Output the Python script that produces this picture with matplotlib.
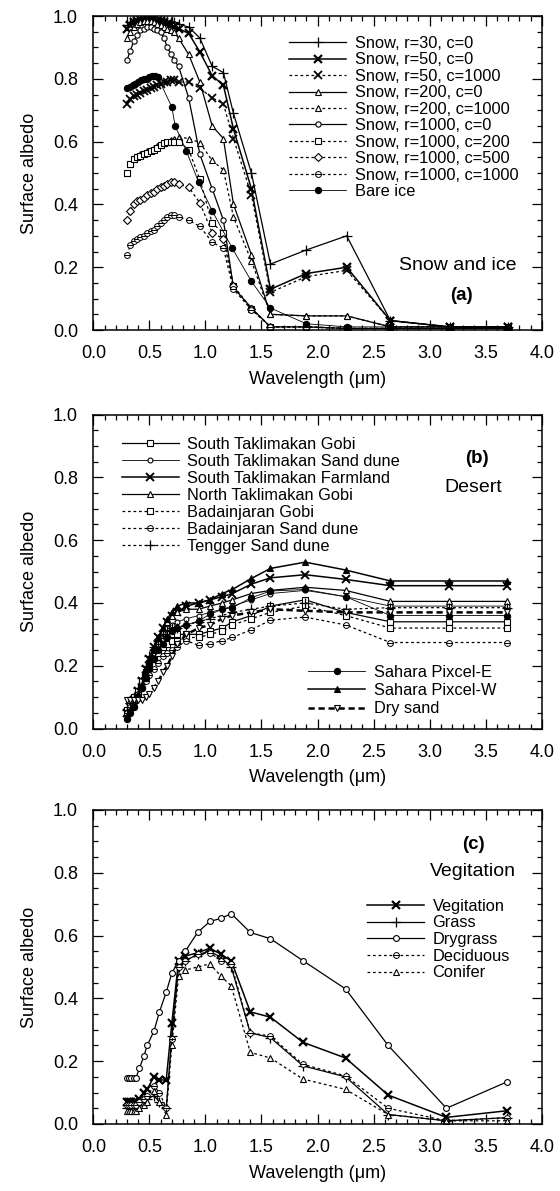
import matplotlib
matplotlib.use("Agg")
import matplotlib.pyplot as plt
from matplotlib.ticker import MultipleLocator, FormatStrFormatter
from matplotlib.path import Path

plt.rcParams['font.family'] = ['Liberation Sans', 'DejaVu Sans']

# ---------------- Panel (a): Snow and ice ----------------
wl_snow = [0.30, 0.33, 0.36, 0.39, 0.42, 0.45, 0.48, 0.51, 0.54, 0.57, 0.60, 0.63, 0.66, 0.69, 0.72, 0.76,
           0.85, 0.95, 1.06, 1.16, 1.25, 1.41, 1.58, 1.90, 2.26, 2.65, 3.18, 3.70]
snow_r30_c0 = [0.97, 0.98, 0.985, 0.99, 0.99, 0.99, 0.99, 0.99, 0.99, 0.99, 0.99, 0.985, 0.985, 0.98, 0.98, 0.975,
               0.965, 0.93, 0.84, 0.82, 0.69, 0.50, 0.21, 0.255, 0.30, 0.03, 0.01, 0.01]
snow_r50_c0 = [0.96, 0.97, 0.98, 0.985, 0.99, 0.99, 0.99, 0.99, 0.99, 0.985, 0.985, 0.98, 0.975, 0.97, 0.965, 0.96,
               0.945, 0.886, 0.81, 0.78, 0.64, 0.45, 0.13, 0.18, 0.20, 0.03, 0.01, 0.01]
snow_r50_c1000 = [0.72, 0.735, 0.745, 0.75, 0.755, 0.76, 0.765, 0.77, 0.775, 0.78, 0.785, 0.79, 0.79, 0.795, 0.795, 0.79,
                  0.79, 0.77, 0.74, 0.72, 0.61, 0.43, 0.12, 0.17, 0.19, 0.03, 0.01, 0.01]
snow_r200_c0 = [0.93, 0.95, 0.965, 0.975, 0.98, 0.985, 0.985, 0.985, 0.98, 0.975, 0.97, 0.965, 0.96, 0.955, 0.95, 0.93,
                0.878, 0.79, 0.65, 0.61, 0.40, 0.24, 0.05, 0.045, 0.045, 0.01, 0.01, 0.01]
snow_r200_c1000 = [0.50, 0.53, 0.545, 0.555, 0.56, 0.565, 0.57, 0.575, 0.58, 0.585, 0.59, 0.595, 0.60, 0.605, 0.61, 0.615,
                   0.61, 0.597, 0.54, 0.51, 0.36, 0.22, 0.05, 0.045, 0.045, 0.01, 0.01, 0.01]
snow_r1000_c0 = [0.86, 0.89, 0.92, 0.94, 0.955, 0.96, 0.965, 0.965, 0.96, 0.955, 0.95, 0.93, 0.90, 0.88, 0.86, 0.84,
                 0.74, 0.56, 0.45, 0.35, 0.135, 0.07, 0.01, 0.01, 0.005, 0.005, 0.005, 0.005]
snow_r1000_c200 = [0.50, 0.53, 0.545, 0.55, 0.555, 0.56, 0.565, 0.57, 0.575, 0.58, 0.59, 0.595, 0.60, 0.60, 0.60, 0.60,
                   0.575, 0.48, 0.34, 0.31, 0.14, 0.068, 0.01, 0.01, 0.005, 0.005, 0.005, 0.005]
snow_r1000_c500 = [0.35, 0.38, 0.40, 0.41, 0.415, 0.42, 0.43, 0.435, 0.44, 0.45, 0.455, 0.46, 0.465, 0.47, 0.47, 0.465,
                   0.455, 0.405, 0.31, 0.29, 0.14, 0.068, 0.01, 0.01, 0.005, 0.005, 0.005, 0.005]
snow_r1000_c1000 = [0.24, 0.27, 0.285, 0.29, 0.295, 0.30, 0.31, 0.315, 0.32, 0.33, 0.34, 0.35, 0.36, 0.365, 0.365, 0.36,
                    0.35, 0.33, 0.28, 0.26, 0.13, 0.065, 0.01, 0.01, 0.005, 0.005, 0.005, 0.005]
wl_ice = [0.30, 0.325, 0.35, 0.375, 0.40, 0.425, 0.45, 0.475, 0.50, 0.525, 0.55, 0.575,
          0.70, 0.73, 0.83, 0.94, 1.06, 1.24, 1.41, 1.58, 1.90, 2.26, 2.65, 3.18, 3.70]
bare_ice = [0.77, 0.775, 0.78, 0.785, 0.79, 0.795, 0.80, 0.80, 0.805, 0.81, 0.81, 0.805,
            0.71, 0.65, 0.57, 0.47, 0.38, 0.26, 0.155, 0.07, 0.02, 0.01, 0.01, 0.01, 0.01]
labels_a = ["Snow, r=30, c=0", "Snow, r=50, c=0", "Snow, r=50, c=1000", "Snow, r=200, c=0",
            "Snow, r=200, c=1000", "Snow, r=1000, c=0", "Snow, r=1000, c=200", "Snow, r=1000, c=500",
            "Snow, r=1000, c=1000", "Bare ice"]

# ---------------- Panel (b): Desert ----------------
wl_desert = [0.30, 0.33, 0.36, 0.40, 0.43, 0.47, 0.50, 0.54, 0.58, 0.62, 0.66, 0.70, 0.75,
             0.83, 0.94, 1.04, 1.15, 1.24, 1.41, 1.58, 1.89, 2.25, 2.65, 3.17, 3.69]
s_tak_gobi = [0.06, 0.08, 0.10, 0.12, 0.15, 0.18, 0.21, 0.24, 0.26, 0.28, 0.29, 0.30, 0.30,
              0.30, 0.30, 0.31, 0.32, 0.34, 0.36, 0.39, 0.41, 0.37, 0.34, 0.34, 0.34]
s_tak_sand = [0.05, 0.07, 0.09, 0.12, 0.15, 0.18, 0.21, 0.24, 0.27, 0.30, 0.32, 0.33, 0.34,
              0.35, 0.36, 0.37, 0.38, 0.39, 0.41, 0.43, 0.44, 0.42, 0.39, 0.39, 0.39]
s_tak_farm = [0.05, 0.07, 0.09, 0.12, 0.15, 0.19, 0.22, 0.26, 0.29, 0.32, 0.34, 0.36, 0.37,
              0.39, 0.40, 0.41, 0.42, 0.43, 0.46, 0.48, 0.49, 0.475, 0.455, 0.455, 0.455]
n_tak_gobi = [0.05, 0.07, 0.09, 0.12, 0.15, 0.18, 0.21, 0.25, 0.28, 0.31, 0.34, 0.36, 0.37,
              0.38, 0.38, 0.39, 0.40, 0.41, 0.43, 0.44, 0.45, 0.44, 0.405, 0.405, 0.405]
badain_gobi = [0.06, 0.08, 0.10, 0.12, 0.15, 0.17, 0.20, 0.22, 0.24, 0.26, 0.27, 0.28, 0.28,
               0.29, 0.29, 0.30, 0.31, 0.33, 0.35, 0.37, 0.39, 0.36, 0.32, 0.32, 0.32]
badain_sand = [0.05, 0.07, 0.09, 0.11, 0.13, 0.15, 0.17, 0.19, 0.21, 0.23, 0.24, 0.25, 0.26,
               0.28, 0.265, 0.27, 0.28, 0.29, 0.315, 0.345, 0.355, 0.33, 0.274, 0.274, 0.274]
tengger_sand = [0.06, 0.08, 0.10, 0.13, 0.16, 0.20, 0.23, 0.26, 0.28, 0.30, 0.31, 0.32, 0.32,
                0.33, 0.34, 0.35, 0.36, 0.37, 0.38, 0.39, 0.40, 0.38, 0.385, 0.385, 0.385]
sahara_e = [0.03, 0.05, 0.07, 0.10, 0.13, 0.16, 0.19, 0.22, 0.25, 0.27, 0.29, 0.31, 0.32,
            0.33, 0.343, 0.364, 0.38, 0.385, 0.417, 0.438, 0.443, 0.42, 0.36, 0.36, 0.36]
sahara_w = [0.04, 0.06, 0.08, 0.11, 0.14, 0.18, 0.21, 0.25, 0.29, 0.32, 0.35, 0.37, 0.39,
            0.40, 0.40, 0.41, 0.43, 0.443, 0.478, 0.51, 0.53, 0.505, 0.47, 0.47, 0.47]
dry_sand = [0.09, 0.09, 0.09, 0.09, 0.09, 0.10, 0.11, 0.13, 0.15, 0.18, 0.20, 0.23, 0.27,
            0.30, 0.32, 0.33, 0.35, 0.36, 0.37, 0.38, 0.375, 0.37, 0.37, 0.37, 0.37]
labels_b1 = ["South Taklimakan Gobi", "South Taklimakan Sand dune", "South Taklimakan Farmland",
             "North Taklimakan Gobi", "Badainjaran Gobi", "Badainjaran Sand dune", "Tengger Sand dune"]
labels_b2 = ["Sahara Pixcel-E", "Sahara Pixcel-W", "Dry sand"]

# ---------------- Panel (c): Vegetation ----------------
wl_veg = [0.30, 0.32, 0.34, 0.36, 0.38, 0.41, 0.45, 0.48, 0.54, 0.59, 0.65, 0.70, 0.76, 0.82,
          0.93, 1.04, 1.14, 1.23, 1.40, 1.58, 1.87, 2.25, 2.63, 3.15, 3.69]
vegitation = [0.07, 0.07, 0.07, 0.07, 0.07, 0.08, 0.10, 0.11, 0.15, 0.14, 0.14, 0.32, 0.52, 0.535,
              0.545, 0.56, 0.54, 0.52, 0.357, 0.34, 0.26, 0.21, 0.092, 0.021, 0.042]
grass = [0.05, 0.05, 0.05, 0.05, 0.06, 0.06, 0.07, 0.08, 0.09, 0.07, 0.05, 0.28, 0.50, 0.52,
         0.54, 0.55, 0.53, 0.50, 0.29, 0.275, 0.185, 0.15, 0.03, 0.01, 0.02]
drygrass = [0.146, 0.146, 0.146, 0.146, 0.146, 0.177, 0.215, 0.25, 0.295, 0.357, 0.42, 0.48, 0.52, 0.55,
            0.61, 0.645, 0.655, 0.67, 0.61, 0.59, 0.52, 0.43, 0.25, 0.05, 0.134]
deciduous = [0.06, 0.06, 0.06, 0.06, 0.06, 0.07, 0.08, 0.09, 0.12, 0.10, 0.05, 0.27, 0.50, 0.52,
             0.54, 0.545, 0.52, 0.51, 0.29, 0.28, 0.19, 0.153, 0.05, 0.01, 0.02]
conifer = [0.04, 0.04, 0.04, 0.04, 0.04, 0.05, 0.06, 0.07, 0.106, 0.07, 0.03, 0.25, 0.47, 0.49,
           0.50, 0.51, 0.47, 0.44, 0.228, 0.21, 0.143, 0.11, 0.03, 0.01, 0.01]
labels_c = ["Vegitation", "Grass", "Drygrass", "Deciduous", "Conifer"]

# ---------------- styles ----------------
DASH = (0, (2.2, 2.2))
LW = 0.9
W = 'white'
# circle with a horizontal bar (⊖)
OMINUS = Path.make_compound_path(Path.unit_circle(),
                                 Path([[-1.0, 0.0], [1.0, 0.0]], [Path.MOVETO, Path.LINETO]))


def style(marker, ls='-', lw=LW, ms=4.5, mfc=W, mew=0.8):
    return dict(color='black', ls=ls, lw=lw, marker=marker, ms=ms, mfc=mfc, mec='black', mew=mew)


FS_TICK = 13
FS_LAB = 13
FS_LEG = 11.8
FS_TXT = 14

fig = plt.figure(figsize=(5.6, 11.91), dpi=100)
left, width, height = 0.1667, 0.8007, 0.2636
bottoms = [0.7229, 0.3883, 0.0563]
axes = [fig.add_axes([left, b, width, height]) for b in bottoms]

for ax in axes:
    ax.set_xlim(0, 4)
    ax.set_ylim(0, 1)
    ax.xaxis.set_major_locator(MultipleLocator(0.5))
    ax.xaxis.set_minor_locator(MultipleLocator(0.1))
    ax.yaxis.set_major_locator(MultipleLocator(0.2))
    ax.yaxis.set_minor_locator(MultipleLocator(0.05))
    ax.xaxis.set_major_formatter(FormatStrFormatter('%.1f'))
    ax.yaxis.set_major_formatter(FormatStrFormatter('%.1f'))
    ax.tick_params(which='both', direction='in', top=True, right=True, width=0.9, labelsize=FS_TICK)
    ax.tick_params(which='major', length=7)
    ax.tick_params(which='minor', length=3.6)
    ax.tick_params(axis='y', pad=11)
    ax.tick_params(axis='x', pad=11)
    for s in ax.spines.values():
        s.set_linewidth(1.1)
    ax.set_xlabel('Wavelength (μm)', fontsize=FS_LAB, labelpad=6)
    ax.set_ylabel('Surface albedo', fontsize=FS_LAB, labelpad=11)

legkw = dict(frameon=False, fontsize=FS_LEG, handlelength=3.5, handletextpad=0.5,
             borderpad=0, borderaxespad=0)

# Panel a
ax = axes[0]
ax.plot(wl_snow, snow_r30_c0, label=labels_a[0], **style('+', ms=7, mew=0.9))
ax.plot(wl_snow, snow_r50_c0, label=labels_a[1], **style('x', ms=6, mew=1.6, lw=1.1))
ax.plot(wl_snow, snow_r50_c1000, label=labels_a[2], **style('x', ls=DASH, ms=6, mew=1.3))
ax.plot(wl_snow, snow_r200_c0, label=labels_a[3], **style('^', ms=4.5))
ax.plot(wl_snow, snow_r200_c1000, label=labels_a[4], **style('^', ls=DASH, ms=4.5))
ax.plot(wl_snow, snow_r1000_c0, label=labels_a[5], **style('o', ms=3.8))
ax.plot(wl_snow, snow_r1000_c200, label=labels_a[6], **style('s', ls=DASH, ms=5))
ax.plot(wl_snow, snow_r1000_c500, label=labels_a[7], **style('D', ls=DASH, ms=3.6))
ax.plot(wl_snow, snow_r1000_c1000, label=labels_a[8], **style(OMINUS, ls=DASH, ms=4.2, mew=0.7))
ax.plot(wl_ice, bare_ice, label=labels_a[9], **style('o', lw=0.6, ms=4.5, mfc='black'))
ax.legend(loc='upper left', bbox_to_anchor=(0.4365, 0.937), labelspacing=0.09, **legkw)
ax.text(0.812, 0.207, 'Snow and ice', transform=ax.transAxes, ha='center', va='center', fontsize=FS_TXT)
ax.text(0.822, 0.111, '(a)', transform=ax.transAxes, ha='center', va='center', fontsize=13.5, fontweight='bold')

# Panel b
ax = axes[1]
h1 = []
h1 += ax.plot(wl_desert, s_tak_gobi, label=labels_b1[0], **style('s', ms=5))
h1 += ax.plot(wl_desert, s_tak_sand, label=labels_b1[1], **style('o', lw=0.6, ms=3.5))
h1 += ax.plot(wl_desert, s_tak_farm, label=labels_b1[2], **style('x', ms=6, mew=1.4, lw=1.1))
h1 += ax.plot(wl_desert, n_tak_gobi, label=labels_b1[3], **style('^', ms=4.5))
h1 += ax.plot(wl_desert, badain_gobi, label=labels_b1[4], **style('s', ls=DASH, ms=5))
h1 += ax.plot(wl_desert, badain_sand, label=labels_b1[5], **style(OMINUS, ls=DASH, ms=4.2, mew=0.7))
h1 += ax.plot(wl_desert, tengger_sand, label=labels_b1[6], **style('+', ls=DASH, ms=7, mew=0.9))
h2 = []
h2 += ax.plot(wl_desert, sahara_e, label=labels_b2[0], **style('o', lw=0.6, ms=4.5, mfc='black'))
h2 += ax.plot(wl_desert, sahara_w, label=labels_b2[1], **style('^', lw=1.1, ms=5, mfc='black'))
h2 += ax.plot(wl_desert, dry_sand, label=labels_b2[2], **style('v', ls=(0, (2.5, 1.5)), lw=1.8, ms=4.5))
leg1 = ax.legend(handles=h1, loc='upper left', bbox_to_anchor=(0.063, 0.928), labelspacing=0.12, **legkw)
ax.add_artist(leg1)
ax.legend(handles=h2, loc='lower left', bbox_to_anchor=(0.479, 0.039), labelspacing=0.2, **legkw)
ax.text(0.855, 0.861, '(b)', transform=ax.transAxes, ha='center', va='center', fontsize=13.5, fontweight='bold')
ax.text(0.847, 0.769, 'Desert', transform=ax.transAxes, ha='center', va='center', fontsize=FS_TXT)

# Panel c
ax = axes[2]
ax.plot(wl_veg, vegitation, label=labels_c[0], **style('x', ms=6, mew=1.6, lw=1.1))
ax.plot(wl_veg, grass, label=labels_c[1], **style('+', ms=7, mew=0.9))
ax.plot(wl_veg, drygrass, label=labels_c[2], **style('o', ms=4.2))
ax.plot(wl_veg, deciduous, label=labels_c[3], **style(OMINUS, ls=DASH, ms=4.2, mew=0.7))
ax.plot(wl_veg, conifer, label=labels_c[4], **style('^', ls=DASH, ms=4.5))
ax.legend(loc='upper left', bbox_to_anchor=(0.61, 0.717), labelspacing=0.1, **legkw)
ax.text(0.847, 0.889, '(c)', transform=ax.transAxes, ha='center', va='center', fontsize=13.5, fontweight='bold')
ax.text(0.847, 0.803, 'Vegitation', transform=ax.transAxes, ha='center', va='center', fontsize=FS_TXT)

fig.savefig('out.png', dpi=100)
